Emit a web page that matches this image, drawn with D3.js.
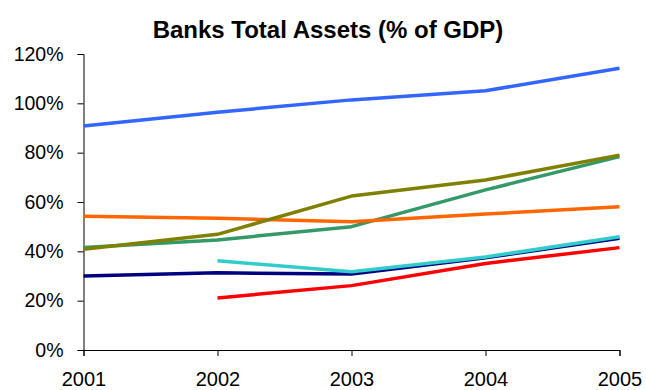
<!DOCTYPE html>
<html>
<head>
<meta charset="utf-8">
<script src="https://cdn.jsdelivr.net/npm/d3@7"></script>
<style>
  html, body { margin: 0; padding: 0; background: #fff; }
  svg { display: block; font-family: "Liberation Sans", Arial, sans-serif; }
</style>
</head>
<body>
<svg id="chart" width="646" height="390"></svg>
<script>
const years = [2001, 2002, 2003, 2004, 2005];
const yTicks = [0, 20, 40, 60, 80, 100, 120];

// Series values (% of GDP); null = no data
const seriesBlue   = [90.8, 96.4, 101.4, 105.1, 114.2];
const seriesNavy   = [30.0, 31.3, 30.8, 37.4, 45.3];
const seriesGreen  = [41.6, 44.6, 50.0, 64.9, 78.4];
const seriesOrange = [54.2, 53.4, 52.0, 55.1, 58.1];
const seriesOlive  = [40.8, 46.9, 62.4, 68.9, 79.0];
const seriesCyan   = [null, 36.2, 31.7, 37.7, 45.9];
const seriesRed    = [null, 21.1, 26.1, 35.1, 41.5];

const series = [
  { values: seriesBlue,   color: "#3366FF" },
  { values: seriesNavy,   color: "#000080" },
  { values: seriesGreen,  color: "#339966" },
  { values: seriesOrange, color: "#FF6600" },
  { values: seriesOlive,  color: "#808000" },
  { values: seriesCyan,   color: "#33CCCC" },
  { values: seriesRed,    color: "#FF0000" }
];

const svg = d3.select("#chart");
const x = d3.scaleLinear().domain([2001, 2005]).range([83.5, 619.5]);
const y = d3.scaleLinear().domain([0, 120]).range([350, 54]);

// Title
svg.append("text")
  .attr("x", 328).attr("y", 38)
  .attr("text-anchor", "middle")
  .attr("font-size", 24).attr("font-weight", "bold")
  .attr("fill", "#000")
  .text("Banks Total Assets (% of GDP)");

// Y axis
const yAxis = svg.append("g")
  .attr("transform", "translate(83.5,0)")
  .call(d3.axisLeft(y).tickValues(yTicks).tickSize(6).tickPadding(14)
    .tickFormat(d => d + "%"));
yAxis.select(".domain").attr("stroke", "#000");
yAxis.selectAll(".tick line").attr("stroke", "#000");
yAxis.selectAll(".tick text")
  .attr("font-size", 19.5).attr("fill", "#000")
  .attr("font-family", "'Liberation Sans', Arial, sans-serif");

// X axis
const xAxis = svg.append("g")
  .attr("transform", "translate(0,350)")
  .call(d3.axisBottom(x).tickValues(years).tickSize(6).tickPadding(16)
    .tickFormat(d3.format("d")));
xAxis.select(".domain").attr("stroke", "#000");
xAxis.selectAll(".tick line").attr("stroke", "#000");
xAxis.selectAll(".tick text")
  .attr("font-size", 20).attr("fill", "#000")
  .attr("font-family", "'Liberation Sans', Arial, sans-serif");

// Lines
const line = d3.line()
  .defined(d => d.v != null)
  .x(d => x(d.year))
  .y(d => y(d.v));

series.forEach(s => {
  svg.append("path")
    .datum(years.map((yr, i) => ({ year: yr, v: s.values[i] })))
    .attr("fill", "none")
    .attr("stroke", s.color)
    .attr("stroke-width", 3.5)
    .attr("stroke-linejoin", "round")
    .attr("d", line);
});
</script>
</body>
</html>
